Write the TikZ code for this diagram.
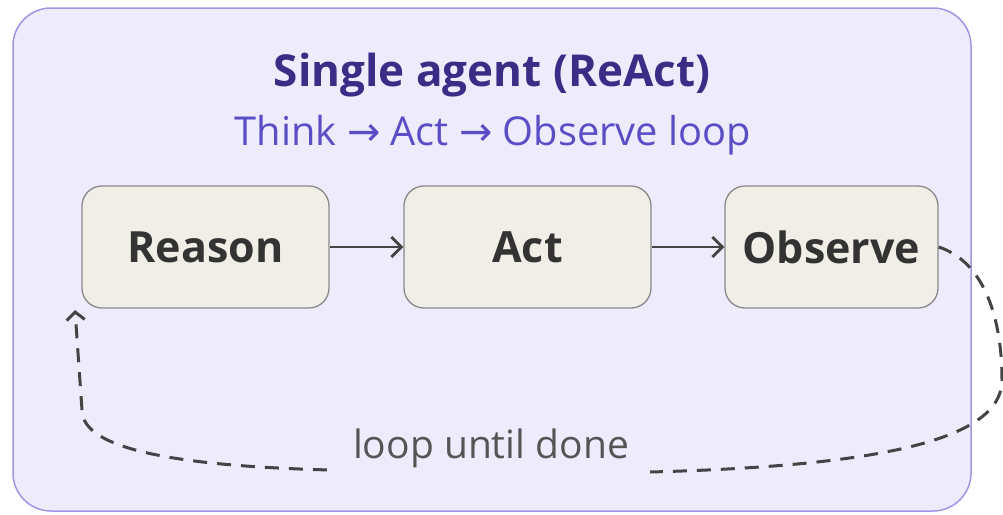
\documentclass[tikz,border=0pt]{standalone}
\usepackage{fontspec}
\setmainfont{Open Sans}
\newfontfamily\arrowfont{DejaVu Sans}
\usetikzlibrary{arrows.meta}
\definecolor{panelfill}{HTML}{EDEBFC}
\definecolor{panelline}{HTML}{A296E4}
\definecolor{titlecol}{HTML}{3B2D86}
\definecolor{subcol}{HTML}{5A4DC6}
\definecolor{boxfill}{HTML}{F1EEE8}
\definecolor{boxline}{HTML}{8A8A8A}
\definecolor{inkcol}{HTML}{333333}
\definecolor{wirecol}{HTML}{444444}
\definecolor{notecol}{HTML}{555555}
\newcommand{\rarr}{{\arrowfont →}}
\tikzset{
  stepbox/.style={draw=boxline, line width=1.3pt, fill=boxfill, rounded corners=20pt,
    minimum height=122pt, inner sep=0pt, text=inkcol,
    font=\fontsize{43}{50}\selectfont\bfseries},
  flow/.style={draw=wirecol, line width=2.8pt,
    -{Straight Barb[length=10pt,width=20pt,line width=2.8pt]}},
  loopwire/.style={draw=wirecol, line width=3pt, dash pattern=on 14pt off 10pt,
    -{Straight Barb[length=8pt,width=18pt,line width=3pt]}},
}
\begin{document}
\begin{tikzpicture}[x=1pt,y=-1pt]
\useasboundingbox (0,0) rectangle (1003,514);
% outer panel
\draw[fill=panelfill, draw=panelline, line width=1.5pt, rounded corners=38pt]
  (13,8) rectangle (971,511);
% headings
\node[text=titlecol, font=\fontsize{44}{52}\selectfont\bfseries] (title) at (492,75) {Single agent (ReAct)};
\node[text=subcol, font=\fontsize{39.8}{46}\selectfont] (sub) at (493,135) {Think \rarr{} Act \rarr{} Observe loop};
% steps
\node[stepbox, minimum width=247pt] (reason) at (205.5,247) {Reason};
\node[stepbox, minimum width=247pt] (act) at (527.5,247) {Act};
\node[stepbox, minimum width=213pt] (observe) at (831.5,247) {Observe};
\draw[flow] (reason) -- (act);
\draw[flow] (act) -- (observe);
% loop back
\coordinate (r1) at (1002,380);
\coordinate (b1) at (650,472);
\coordinate (b2) at (330,470);
\coordinate (l1) at (82,410);
\coordinate (tip) at (75,310);
\draw[loopwire] (observe.east) .. controls (985,262) and (1002,320) .. (r1)
  .. controls (1002,440) and (880,466) .. (b1) -- (b2)
  .. controls (180,466) and (82,450) .. (l1) -- (tip);
\node[fill=panelfill, text=notecol, font=\fontsize{39}{46}\selectfont,
  minimum width=318pt, minimum height=64pt] (note) at (491,448) {loop until done};
\end{tikzpicture}
\end{document}
